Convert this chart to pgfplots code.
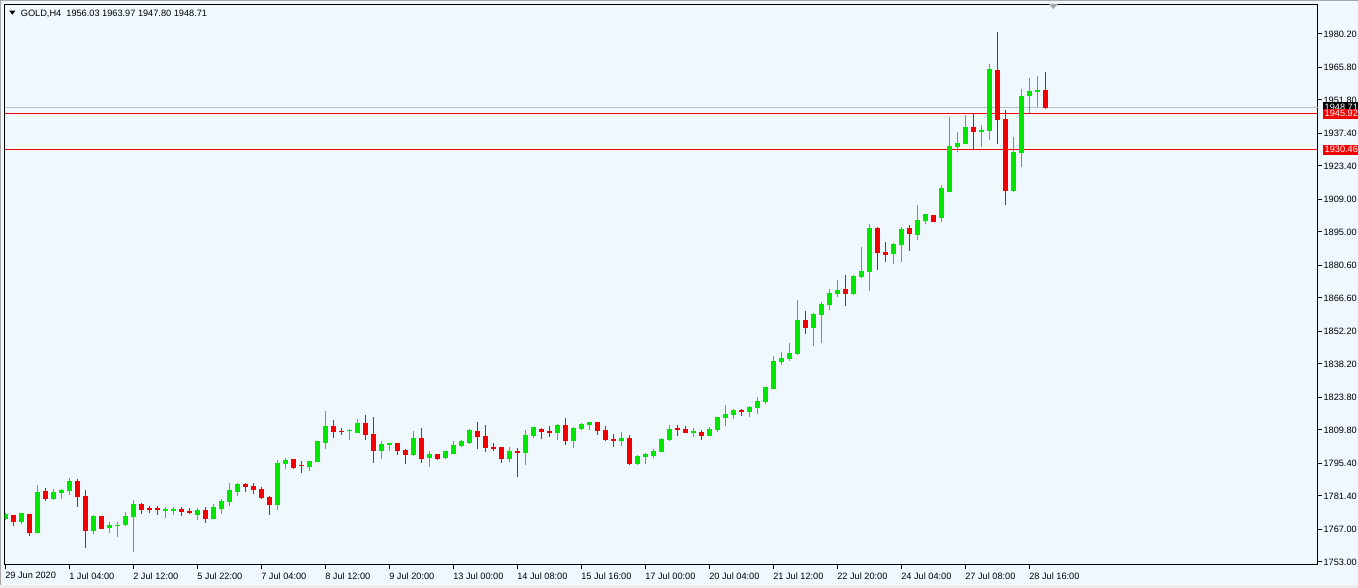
\documentclass[border=0pt]{standalone}
\usepackage{fontspec}
\setmainfont{Liberation Sans}
\usepackage{pgfplots}
\usepackage{pgfplotstable}
\pgfplotsset{compat=1.18}
\definecolor{bgc}{RGB}{240,248,255}
\definecolor{bull}{RGB}{0,230,0}
\definecolor{bear}{RGB}{245,0,0}
\definecolor{bidgray}{RGB}{192,192,192}
\pgfplotstableread{
i o h l c
0 1771.65 1773.95 1771.08 1773.38
1 1773.23 1773.23 1768.64 1770.36
2 1770.36 1774.23 1769.21 1773.81
3 1773.66 1773.66 1764.19 1765.63
4 1765.63 1786.14 1765.63 1783.13
5 1783.13 1784.99 1779.40 1780.26
6 1780.12 1784.42 1779.69 1783.13
7 1782.84 1784.42 1779.97 1783.99
8 1783.70 1789.30 1781.84 1787.86
9 1787.86 1788.72 1776.82 1781.12
10 1781.41 1783.99 1759.18 1766.49
11 1766.49 1773.23 1765.06 1772.80
12 1772.80 1772.80 1767.21 1767.49
13 1767.78 1770.36 1765.63 1768.93
14 1768.64 1770.22 1763.91 1768.93
15 1768.93 1774.52 1768.64 1772.80
16 1772.51 1779.69 1757.46 1777.96
17 1777.96 1778.54 1773.66 1775.67
18 1776.10 1777.10 1774.23 1775.81
19 1775.96 1777.10 1773.23 1775.67
20 1775.10 1776.82 1772.08 1775.81
21 1775.10 1776.82 1773.23 1775.81
22 1775.81 1776.53 1772.95 1774.67
23 1774.95 1776.39 1773.66 1774.23
24 1773.23 1776.39 1771.08 1775.38
25 1775.38 1776.82 1769.93 1771.80
26 1771.51 1777.96 1771.37 1776.39
27 1775.81 1779.97 1773.66 1779.26
28 1778.97 1787.14 1777.10 1783.56
29 1783.27 1787.14 1781.41 1786.57
30 1786.57 1786.86 1783.27 1785.42
31 1785.71 1787.14 1782.27 1783.99
32 1784.42 1785.14 1780.12 1780.69
33 1780.98 1781.41 1773.23 1777.53
34 1777.53 1796.90 1775.38 1795.46
35 1795.46 1797.90 1793.03 1796.90
36 1797.33 1797.33 1793.03 1793.74
37 1794.75 1796.47 1791.45 1794.32
38 1794.03 1796.61 1792.31 1796.47
39 1796.18 1805.22 1795.89 1804.79
40 1804.36 1817.98 1801.63 1811.53
41 1811.53 1814.11 1806.51 1809.09
42 1809.38 1810.52 1807.65 1809.09
43 1809.52 1810.09 1805.50 1809.81
44 1808.80 1814.54 1808.37 1812.67
45 1812.67 1816.26 1805.50 1807.94
46 1808.08 1815.54 1795.75 1800.91
47 1800.91 1805.07 1797.18 1803.64
48 1803.64 1804.36 1800.91 1804.07
49 1803.93 1804.36 1799.05 1800.91
50 1801.20 1801.49 1795.18 1799.05
51 1799.05 1809.38 1798.76 1806.22
52 1806.22 1810.52 1795.46 1797.33
53 1797.90 1800.77 1794.03 1799.48
54 1799.34 1799.34 1796.90 1797.33
55 1798.04 1800.91 1797.33 1800.48
56 1799.77 1805.07 1799.48 1803.35
57 1802.92 1805.50 1802.63 1805.07
58 1804.50 1810.24 1803.78 1809.52
59 1809.38 1813.10 1801.63 1806.94
60 1807.22 1811.96 1800.48 1802.06
61 1802.35 1804.36 1800.77 1802.06
62 1802.49 1802.49 1795.75 1797.33
63 1797.33 1802.63 1796.18 1800.48
64 1800.48 1801.92 1789.58 1800.20
65 1800.05 1809.81 1794.75 1807.65
66 1807.22 1811.24 1806.51 1810.81
67 1810.24 1810.81 1805.93 1809.09
68 1809.38 1811.53 1806.94 1808.66
69 1808.66 1812.24 1805.50 1811.96
70 1811.96 1815.11 1803.35 1805.22
71 1805.22 1811.24 1802.06 1810.52
72 1810.24 1812.96 1809.81 1812.39
73 1812.10 1813.39 1809.81 1813.25
74 1813.25 1813.25 1807.65 1809.52
75 1809.81 1811.53 1805.07 1805.50
76 1805.93 1808.08 1802.64 1805.22
77 1805.07 1808.95 1803.07 1806.36
78 1806.36 1807.66 1794.75 1795.18
79 1795.18 1799.05 1794.75 1798.62
80 1798.33 1799.77 1795.18 1799.19
81 1798.62 1801.63 1797.90 1800.63
82 1800.34 1806.22 1800.20 1805.93
83 1805.50 1811.96 1805.07 1810.24
84 1810.67 1811.96 1807.23 1809.81
85 1810.24 1811.53 1808.52 1808.80
86 1808.66 1810.67 1806.94 1809.09
87 1808.95 1809.81 1805.50 1807.23
88 1807.23 1811.10 1807.08 1810.24
89 1809.81 1815.54 1808.95 1815.40
90 1814.97 1820.56 1811.53 1816.69
91 1816.26 1818.84 1814.54 1818.41
92 1818.41 1818.99 1815.83 1817.55
93 1817.55 1820.13 1815.40 1819.70
94 1819.27 1824.01 1816.69 1822.28
95 1821.85 1828.31 1821.00 1828.31
96 1827.45 1841.65 1827.45 1839.50
97 1839.07 1843.37 1837.78 1840.79
98 1840.36 1847.24 1839.50 1842.94
99 1842.51 1865.74 1842.08 1857.14
100 1857.14 1861.01 1851.11 1853.70
101 1853.70 1860.15 1845.95 1859.72
102 1859.29 1864.88 1847.24 1864.02
103 1863.59 1870.48 1861.44 1868.70
104 1868.33 1874.35 1867.10 1870.05
105 1870.48 1876.50 1863.16 1868.33
106 1868.33 1876.50 1867.70 1876.07
107 1875.64 1888.55 1875.21 1878.22
108 1877.79 1898.45 1869.62 1896.73
109 1896.72 1897.30 1878.65 1886.11
110 1886.40 1890.70 1882.09 1885.25
111 1885.54 1890.27 1881.23 1889.84
112 1889.41 1897.15 1882.09 1896.29
113 1896.72 1898.01 1886.83 1894.14
114 1893.71 1906.62 1891.56 1900.17
115 1899.74 1902.75 1898.44 1902.75
116 1902.32 1902.32 1899.31 1899.31
117 1901.03 1915.23 1899.31 1913.93
118 1912.50 1944.60 1912.20 1932.00
119 1931.72 1938.03 1929.57 1933.15
120 1933.01 1945.20 1933.01 1940.18
121 1940.18 1946.06 1930.71 1938.17
122 1938.31 1941.04 1931.57 1938.89
123 1938.60 1967.43 1934.59 1965.14
124 1964.71 1981.06 1932.86 1943.33
125 1943.62 1947.49 1906.62 1912.78
126 1912.78 1935.88 1912.35 1929.42
127 1928.99 1956.53 1923.11 1953.52
128 1953.52 1961.26 1946.06 1955.67
129 1955.38 1962.12 1948.64 1956.10
130 1956.03 1963.97 1947.80 1948.71
}\candles

\begin{document}
\begin{tikzpicture}[x=1pt,y=1pt]
\path[use as bounding box] (0,0) rectangle (1358,588);
\fill[bgc] (0,0) rectangle (1358,588);
\begin{axis}[
  at={(4.5pt,23pt)}, anchor=south west,
  scale only axis, width=1313.5pt, height=560.5pt,
  xmin=-0.1, xmax=164.09, ymin=1751.71, ymax=1992.89,
  axis line style={black, line width=1pt},
  tick align=outside, major tick length=4pt,
  tick style={black, line width=1pt},
  xtick pos=left, ytick pos=right, yticklabel pos=right,
  xtick={0,8,...,128},
  xticklabels={29 Jun 2020,1 Jul 04:00,2 Jul 12:00,5 Jul 22:00,7 Jul 04:00,8 Jul 12:00,9 Jul 20:00,13 Jul 00:00,14 Jul 08:00,15 Jul 16:00,17 Jul 00:00,20 Jul 04:00,21 Jul 12:00,22 Jul 20:00,24 Jul 04:00,27 Jul 08:00,28 Jul 16:00},
  ytick={1753.00,1767.00,1781.40,1795.40,1809.80,1823.80,1838.20,1852.20,1866.60,1880.60,1895.00,1909.00,1923.40,1937.40,1951.80,1965.80,1980.20},
  yticklabels={1753.00,1767.00,1781.40,1795.40,1809.80,1823.80,1838.20,1852.20,1866.60,1880.60,1895.00,1909.00,1923.40,1937.40,1951.80,1965.80,1980.20},
  ticklabel style={font=\fontsize{9.2}{10}\selectfont, text=black},
  xticklabel style={anchor=north west, xshift=-3.5pt},
  yticklabel style={anchor=west, xshift=-2pt},
  clip=true,
]
% level lines
\addplot[bidgray, line width=1pt, forget plot] coordinates {(-0.1,1948.71) (164.09,1948.71)};
\addplot[bear, line width=1pt, forget plot] coordinates {(-0.1,1945.92) (164.09,1945.92)};
\addplot[bear, line width=1pt, forget plot] coordinates {(-0.1,1930.46) (164.09,1930.46)};
% bullish wicks
\addplot[draw=none, forget plot,
  x filter/.expression={\thisrow{c}>=\thisrow{o} ? x : nan},
  error bars/.cd, y dir=both, y explicit, error mark=none,
  error bar style={draw=bull, line width=1pt}]
  table[x=i, y expr={(\thisrow{h}+\thisrow{l})/2}, y error expr={(\thisrow{h}-\thisrow{l})/2}] {\candles};
% bearish wicks
\addplot[draw=none, forget plot,
  x filter/.expression={\thisrow{c}<\thisrow{o} ? x : nan},
  error bars/.cd, y dir=both, y explicit, error mark=none,
  error bar style={draw=bear, line width=1pt}]
  table[x=i, y expr={(\thisrow{h}+\thisrow{l})/2}, y error expr={(\thisrow{h}-\thisrow{l})/2}] {\candles};
% bullish bodies
\addplot[draw=none, forget plot,
  x filter/.expression={\thisrow{c}>=\thisrow{o} ? x : nan},
  error bars/.cd, y dir=both, y explicit, error mark=none,
  error bar style={draw=bull, line width=5pt}]
  table[x=i, y expr={(\thisrow{o}+\thisrow{c})/2}, y error expr={abs(\thisrow{c}-\thisrow{o})/2+0.2}] {\candles};
% bearish bodies
\addplot[draw=none, forget plot,
  x filter/.expression={\thisrow{c}<\thisrow{o} ? x : nan},
  error bars/.cd, y dir=both, y explicit, error mark=none,
  error bar style={draw=bear, line width=5pt}]
  table[x=i, y expr={(\thisrow{o}+\thisrow{c})/2}, y error expr={abs(\thisrow{c}-\thisrow{o})/2+0.2}] {\candles};
\coordinate (pbid) at (axis cs:164.09,1948.71);
\coordinate (pa) at (axis cs:164.09,1945.92);
\coordinate (pb) at (axis cs:164.09,1930.46);
\end{axis}
% price tags
\node[fill=black, text=white, anchor=west, inner xsep=1.5pt, inner ysep=0pt, minimum height=10pt, font=\fontsize{9.2}{10}\selectfont] at ([xshift=5pt]pbid) {1948.71};
\node[fill=bear, text=white, anchor=west, inner xsep=1.5pt, inner ysep=0pt, minimum height=10pt, font=\fontsize{9.2}{10}\selectfont] at ([xshift=5pt]pa) {1945.92};
\node[fill=bear, text=white, anchor=west, inner xsep=1.5pt, inner ysep=0pt, minimum height=10pt, font=\fontsize{9.2}{10}\selectfont] at ([xshift=5pt]pb) {1930.46};
% title
\fill[black] (9.3,577.3) -- (15.3,577.3) -- (12.3,573.3) -- cycle;
\node[anchor=base west, inner sep=0pt, font=\fontsize{9.2}{10}\selectfont] at (20.7,571.7) {GOLD,H4\ \ 1956.03 1963.97 1947.80 1948.71};
% chart shift marker
\fill[gray!70] (1049,584) -- (1057.7,584) -- (1053.3,579) -- cycle;
% window border
\fill[gray!70] (0,586.5) rectangle (1358,588);
\fill[gray!70] (0,0) rectangle (1,588);
\fill[gray!15] (0,0) rectangle (1358,2.5);
\end{tikzpicture}
\end{document}
